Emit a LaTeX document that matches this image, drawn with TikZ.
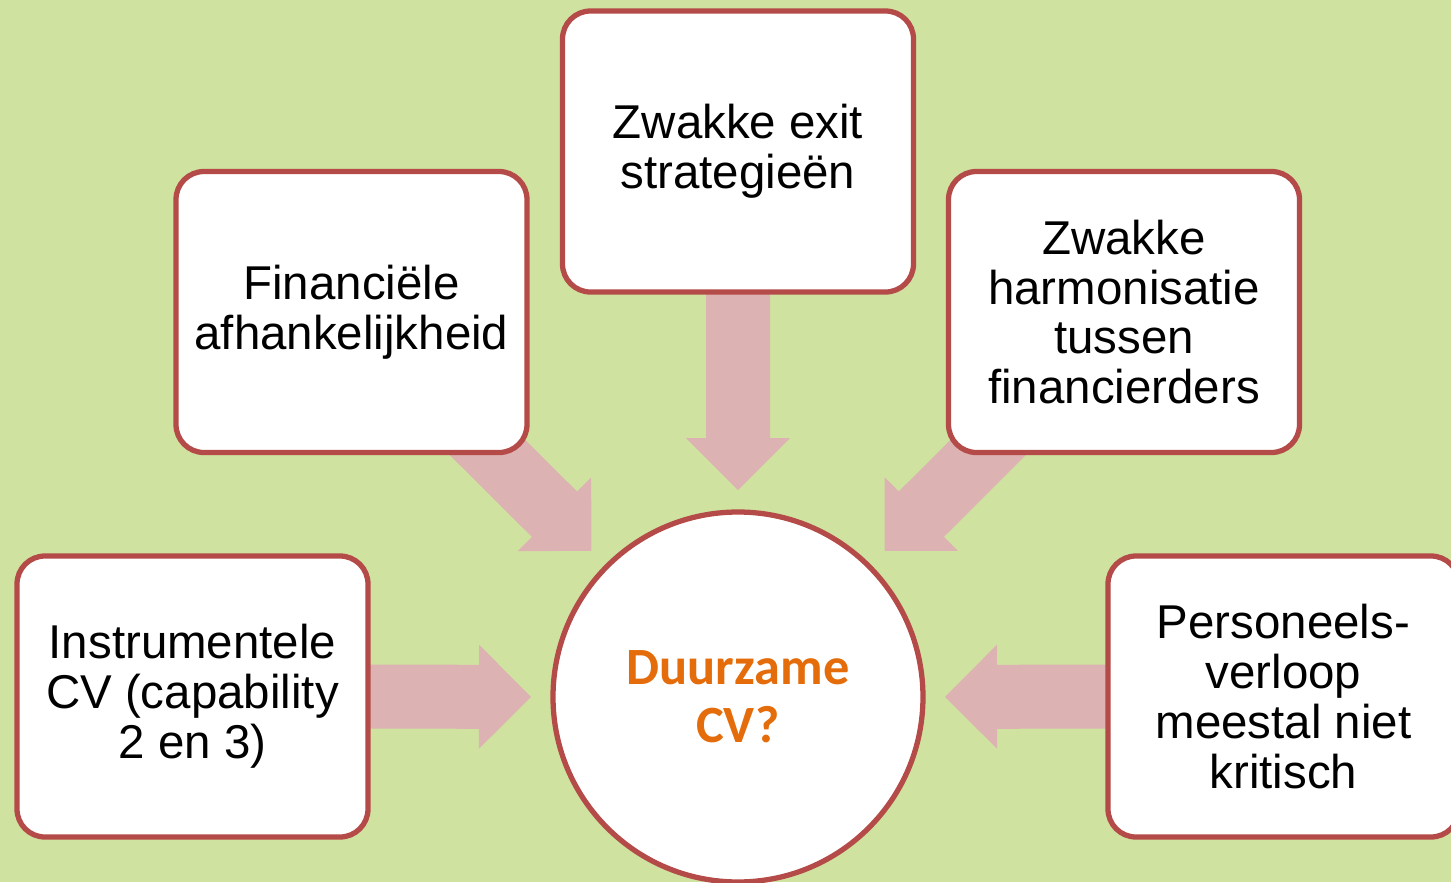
\documentclass[tikz,border=0pt]{standalone}
\usepackage{fontspec}
\setmainfont{Liberation Sans}
\newfontfamily\kernfont{Carlito}
\usepackage{tikz}
\usetikzlibrary{calc,backgrounds}

\definecolor{veld}{RGB}{208,226,160}
\definecolor{rand}{RGB}{180,75,72}
\definecolor{pijlroze}{RGB}{220,178,178}
\definecolor{oranje}{RGB}{228,108,10}

\tikzset{
	factor/.style={draw=rand, line width=1.5pt, fill=white, rounded corners=0.28cm,
		minimum width=3.51cm, minimum height=2.81cm, inner sep=0pt, align=center,
		font=\fontsize{13.5}{14.2}\selectfont},
	kern/.style={circle, draw=rand, line width=1.5pt, fill=white, minimum size=3.70cm,
		inner sep=0pt, align=center, text=oranje,
		font=\kernfont\bfseries\fontsize{14.9}{16.5}\selectfont},
	blok/.style={fill=pijlroze}
}

\begin{document}
\begin{tikzpicture}
		\useasboundingbox (0,0) rectangle (14.51,8.82);
		\node[kern] (cv) at (7.38,1.85) {Duurzame\\CV?};
		\node[factor] (exit) at (7.38,7.305) {Zwakke exit\\strategieën};
		\node[factor] (fin) at (3.515,5.70) {Financiële\\afhankelijkheid};
		\node[factor] (harm) at (11.24,5.70) {Zwakke\\harmonisatie\\tussen\\financierders};
		\node[factor] (instr) at (1.925,1.855) {Instrumentele\\CV (capability\\2 en 3)};
		\node[factor] (pers) at (12.835,1.855) {Personeels-\\verloop\\meestal niet\\kritisch};
		
		\begin{scope}[on background layer]
		\fill[veld] (0,0) rectangle (14.51,8.82);
		\foreach \b in {exit,fin,harm,instr,pers} {
			\coordinate (t) at ($(cv.center)!2.07cm!(\b.center)$);
			\coordinate (h) at ($(cv.center)!2.59cm!(\b.center)$);
			\fill[blok] ($(h)!0.52cm!90:(t)$) -- (t) -- ($(h)!0.52cm!-90:(t)$)
				-- ($(h)!0.32cm!-90:(t)$) -- ($(\b.center)!0.32cm!-90:(h)$)
				-- ($(\b.center)!0.32cm!90:(h)$) -- ($(h)!0.32cm!90:(t)$) -- cycle;
		}
		\end{scope}
	\end{tikzpicture}
\end{document}
